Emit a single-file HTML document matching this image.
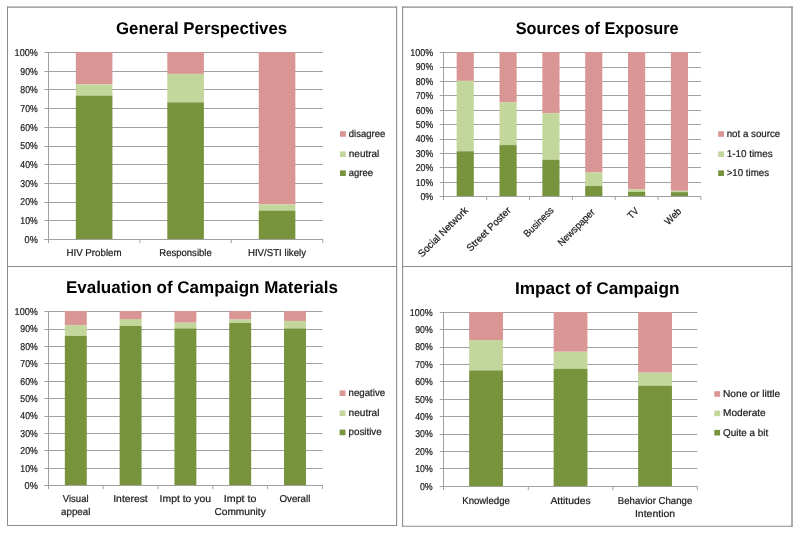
<!DOCTYPE html>
<html><head><meta charset="utf-8"><title>Survey charts</title>
<style>
html,body{margin:0;padding:0;background:#fff;}
body{width:800px;height:534px;overflow:hidden;font-family:"Liberation Sans",sans-serif;}
svg{display:block;font-family:"Liberation Sans",sans-serif;text-rendering:geometricPrecision;will-change:transform;}
</style></head><body>
<svg width="800" height="534" viewBox="0 0 800 534">
<rect width="800" height="534" fill="#fff"/>
<line x1="7" y1="7.05" x2="397.1" y2="7.05" stroke="#8c8c8c" stroke-width="1.3"/>
<line x1="402.1" y1="7.05" x2="792.7" y2="7.05" stroke="#8c8c8c" stroke-width="1.3"/>
<line x1="7" y1="266.5" x2="397.1" y2="266.5" stroke="#8c8c8c" stroke-width="1"/>
<line x1="402.1" y1="266.5" x2="792.7" y2="266.5" stroke="#8c8c8c" stroke-width="1"/>
<line x1="7" y1="525.5" x2="397.1" y2="525.5" stroke="#8c8c8c" stroke-width="1.1"/>
<line x1="402.1" y1="526.3" x2="792.7" y2="526.3" stroke="#8c8c8c" stroke-width="1.1"/>
<line x1="7.5" y1="6.4" x2="7.5" y2="526" stroke="#8c8c8c" stroke-width="1"/>
<line x1="396.6" y1="6.4" x2="396.6" y2="526" stroke="#8c8c8c" stroke-width="1.1"/>
<line x1="402.6" y1="6.4" x2="402.6" y2="526.8" stroke="#8c8c8c" stroke-width="1.1"/>
<line x1="792" y1="6.4" x2="792" y2="526.8" stroke="#8c8c8c" stroke-width="1.4"/>
<text x="201.6" y="34.2" text-anchor="middle" font-size="17.0" font-weight="bold" fill="#000" textLength="171.2" lengthAdjust="spacingAndGlyphs">General Perspectives</text>
<text x="597.2" y="34.3" text-anchor="middle" font-size="17.0" font-weight="bold" fill="#000" textLength="163" lengthAdjust="spacingAndGlyphs">Sources of Exposure</text>
<text x="201.9" y="292.8" text-anchor="middle" font-size="17.0" font-weight="bold" fill="#000" textLength="272" lengthAdjust="spacingAndGlyphs">Evaluation of Campaign Materials</text>
<text x="597.2" y="294.0" text-anchor="middle" font-size="17.0" font-weight="bold" fill="#000" textLength="164.5" lengthAdjust="spacingAndGlyphs">Impact of Campaign</text>
<line x1="44.4" y1="239.5" x2="322.8" y2="239.5" stroke="#a0a0a0" stroke-width="1"/>
<text x="37.8" y="242.80" text-anchor="end" font-size="10.0" fill="#1c1c1c" stroke="#1c1c1c" stroke-width="0.22" textLength="13.2" lengthAdjust="spacingAndGlyphs">0%</text>
<line x1="44.4" y1="220.5" x2="322.8" y2="220.5" stroke="#a0a0a0" stroke-width="1"/>
<text x="37.8" y="224.11" text-anchor="end" font-size="10.0" fill="#1c1c1c" stroke="#1c1c1c" stroke-width="0.22" textLength="17.5" lengthAdjust="spacingAndGlyphs">10%</text>
<line x1="44.4" y1="202.5" x2="322.8" y2="202.5" stroke="#a0a0a0" stroke-width="1"/>
<text x="37.8" y="205.42" text-anchor="end" font-size="10.0" fill="#1c1c1c" stroke="#1c1c1c" stroke-width="0.22" textLength="17.5" lengthAdjust="spacingAndGlyphs">20%</text>
<line x1="44.4" y1="183.5" x2="322.8" y2="183.5" stroke="#a0a0a0" stroke-width="1"/>
<text x="37.8" y="186.73" text-anchor="end" font-size="10.0" fill="#1c1c1c" stroke="#1c1c1c" stroke-width="0.22" textLength="17.5" lengthAdjust="spacingAndGlyphs">30%</text>
<line x1="44.4" y1="164.5" x2="322.8" y2="164.5" stroke="#a0a0a0" stroke-width="1"/>
<text x="37.8" y="168.04" text-anchor="end" font-size="10.0" fill="#1c1c1c" stroke="#1c1c1c" stroke-width="0.22" textLength="17.5" lengthAdjust="spacingAndGlyphs">40%</text>
<line x1="44.4" y1="146.5" x2="322.8" y2="146.5" stroke="#a0a0a0" stroke-width="1"/>
<text x="37.8" y="149.35" text-anchor="end" font-size="10.0" fill="#1c1c1c" stroke="#1c1c1c" stroke-width="0.22" textLength="17.5" lengthAdjust="spacingAndGlyphs">50%</text>
<line x1="44.4" y1="127.5" x2="322.8" y2="127.5" stroke="#a0a0a0" stroke-width="1"/>
<text x="37.8" y="130.66" text-anchor="end" font-size="10.0" fill="#1c1c1c" stroke="#1c1c1c" stroke-width="0.22" textLength="17.5" lengthAdjust="spacingAndGlyphs">60%</text>
<line x1="44.4" y1="108.5" x2="322.8" y2="108.5" stroke="#a0a0a0" stroke-width="1"/>
<text x="37.8" y="111.97" text-anchor="end" font-size="10.0" fill="#1c1c1c" stroke="#1c1c1c" stroke-width="0.22" textLength="17.5" lengthAdjust="spacingAndGlyphs">70%</text>
<line x1="44.4" y1="89.5" x2="322.8" y2="89.5" stroke="#a0a0a0" stroke-width="1"/>
<text x="37.8" y="93.28" text-anchor="end" font-size="10.0" fill="#1c1c1c" stroke="#1c1c1c" stroke-width="0.22" textLength="17.5" lengthAdjust="spacingAndGlyphs">80%</text>
<line x1="44.4" y1="71.5" x2="322.8" y2="71.5" stroke="#a0a0a0" stroke-width="1"/>
<text x="37.8" y="74.59" text-anchor="end" font-size="10.0" fill="#1c1c1c" stroke="#1c1c1c" stroke-width="0.22" textLength="17.5" lengthAdjust="spacingAndGlyphs">90%</text>
<line x1="44.4" y1="52.5" x2="322.8" y2="52.5" stroke="#a0a0a0" stroke-width="1"/>
<text x="37.8" y="55.90" text-anchor="end" font-size="10.0" fill="#1c1c1c" stroke="#1c1c1c" stroke-width="0.22" textLength="23.2" lengthAdjust="spacingAndGlyphs">100%</text>
<rect x="75.84" y="52.0" width="36.59" height="32.40" fill="#d99694"/>
<rect x="75.84" y="84.40" width="36.59" height="11.24" fill="#c3d69b"/>
<rect x="75.84" y="95.64" width="36.59" height="143.66" fill="#77933c"/>
<rect x="167.31" y="52.0" width="36.59" height="21.91" fill="#d99694"/>
<rect x="167.31" y="73.91" width="36.59" height="28.47" fill="#c3d69b"/>
<rect x="167.31" y="102.38" width="36.59" height="136.92" fill="#77933c"/>
<rect x="258.77" y="52.0" width="36.59" height="152.46" fill="#d99694"/>
<rect x="258.77" y="204.46" width="36.59" height="6.18" fill="#c3d69b"/>
<rect x="258.77" y="210.64" width="36.59" height="28.66" fill="#77933c"/>
<line x1="48.5" y1="52.0" x2="48.5" y2="243.1" stroke="#a0a0a0" stroke-width="1"/>
<line x1="44.4" y1="239.5" x2="322.8" y2="239.5" stroke="#a0a0a0" stroke-width="1"/>
<line x1="139.87" y1="239.5" x2="139.87" y2="243.1" stroke="#9a9a9a" stroke-width="0.9"/>
<line x1="231.33" y1="239.5" x2="231.33" y2="243.1" stroke="#9a9a9a" stroke-width="0.9"/>
<line x1="322.80" y1="239.5" x2="322.80" y2="243.1" stroke="#9a9a9a" stroke-width="0.9"/>
<text x="94.03" y="256.4" text-anchor="middle" font-size="10.0" fill="#1c1c1c" stroke="#1c1c1c" stroke-width="0.22" textLength="55.1" lengthAdjust="spacingAndGlyphs">HIV Problem</text>
<text x="185.50" y="256.4" text-anchor="middle" font-size="10.0" fill="#1c1c1c" stroke="#1c1c1c" stroke-width="0.22" textLength="52.5" lengthAdjust="spacingAndGlyphs">Responsible</text>
<text x="276.97" y="256.4" text-anchor="middle" font-size="10.0" fill="#1c1c1c" stroke="#1c1c1c" stroke-width="0.22" textLength="58.1" lengthAdjust="spacingAndGlyphs">HIV/STI likely</text>
<rect x="340" y="131.20" width="5.8" height="5.6" fill="#d99694"/>
<text x="348.8" y="137.00" text-anchor="start" font-size="10.0" fill="#1c1c1c" stroke="#1c1c1c" stroke-width="0.22" textLength="36.4" lengthAdjust="spacingAndGlyphs">disagree</text>
<rect x="340" y="151.40" width="5.8" height="5.6" fill="#c3d69b"/>
<text x="348.8" y="157.20" text-anchor="start" font-size="10.0" fill="#1c1c1c" stroke="#1c1c1c" stroke-width="0.22" textLength="30.5" lengthAdjust="spacingAndGlyphs">neutral</text>
<rect x="340" y="170.40" width="5.8" height="5.6" fill="#77933c"/>
<text x="348.8" y="176.20" text-anchor="start" font-size="10.0" fill="#1c1c1c" stroke="#1c1c1c" stroke-width="0.22" textLength="24.2" lengthAdjust="spacingAndGlyphs">agree</text>
<line x1="439.8" y1="196.5" x2="700.9" y2="196.5" stroke="#a0a0a0" stroke-width="1"/>
<text x="433.2" y="199.90" text-anchor="end" font-size="10.0" fill="#1c1c1c" stroke="#1c1c1c" stroke-width="0.22" textLength="12.8" lengthAdjust="spacingAndGlyphs">0%</text>
<line x1="439.8" y1="182.5" x2="700.9" y2="182.5" stroke="#a0a0a0" stroke-width="1"/>
<text x="433.2" y="185.50" text-anchor="end" font-size="10.0" fill="#1c1c1c" stroke="#1c1c1c" stroke-width="0.22" textLength="17.5" lengthAdjust="spacingAndGlyphs">10%</text>
<line x1="439.8" y1="167.5" x2="700.9" y2="167.5" stroke="#a0a0a0" stroke-width="1"/>
<text x="433.2" y="171.10" text-anchor="end" font-size="10.0" fill="#1c1c1c" stroke="#1c1c1c" stroke-width="0.22" textLength="17.5" lengthAdjust="spacingAndGlyphs">20%</text>
<line x1="439.8" y1="153.5" x2="700.9" y2="153.5" stroke="#a0a0a0" stroke-width="1"/>
<text x="433.2" y="156.70" text-anchor="end" font-size="10.0" fill="#1c1c1c" stroke="#1c1c1c" stroke-width="0.22" textLength="17.5" lengthAdjust="spacingAndGlyphs">30%</text>
<line x1="439.8" y1="139.5" x2="700.9" y2="139.5" stroke="#a0a0a0" stroke-width="1"/>
<text x="433.2" y="142.30" text-anchor="end" font-size="10.0" fill="#1c1c1c" stroke="#1c1c1c" stroke-width="0.22" textLength="17.5" lengthAdjust="spacingAndGlyphs">40%</text>
<line x1="439.8" y1="124.5" x2="700.9" y2="124.5" stroke="#a0a0a0" stroke-width="1"/>
<text x="433.2" y="127.90" text-anchor="end" font-size="10.0" fill="#1c1c1c" stroke="#1c1c1c" stroke-width="0.22" textLength="17.5" lengthAdjust="spacingAndGlyphs">50%</text>
<line x1="439.8" y1="110.5" x2="700.9" y2="110.5" stroke="#a0a0a0" stroke-width="1"/>
<text x="433.2" y="113.50" text-anchor="end" font-size="10.0" fill="#1c1c1c" stroke="#1c1c1c" stroke-width="0.22" textLength="17.5" lengthAdjust="spacingAndGlyphs">60%</text>
<line x1="439.8" y1="95.5" x2="700.9" y2="95.5" stroke="#a0a0a0" stroke-width="1"/>
<text x="433.2" y="99.10" text-anchor="end" font-size="10.0" fill="#1c1c1c" stroke="#1c1c1c" stroke-width="0.22" textLength="17.5" lengthAdjust="spacingAndGlyphs">70%</text>
<line x1="439.8" y1="81.5" x2="700.9" y2="81.5" stroke="#a0a0a0" stroke-width="1"/>
<text x="433.2" y="84.70" text-anchor="end" font-size="10.0" fill="#1c1c1c" stroke="#1c1c1c" stroke-width="0.22" textLength="17.5" lengthAdjust="spacingAndGlyphs">80%</text>
<line x1="439.8" y1="67.5" x2="700.9" y2="67.5" stroke="#a0a0a0" stroke-width="1"/>
<text x="433.2" y="70.30" text-anchor="end" font-size="10.0" fill="#1c1c1c" stroke="#1c1c1c" stroke-width="0.22" textLength="17.5" lengthAdjust="spacingAndGlyphs">90%</text>
<line x1="439.8" y1="52.5" x2="700.9" y2="52.5" stroke="#a0a0a0" stroke-width="1"/>
<text x="433.2" y="55.90" text-anchor="end" font-size="10.0" fill="#1c1c1c" stroke="#1c1c1c" stroke-width="0.22" textLength="22.9" lengthAdjust="spacingAndGlyphs">100%</text>
<rect x="456.66" y="52.0" width="17.14" height="28.86" fill="#d99694"/>
<rect x="456.66" y="80.86" width="17.14" height="70.42" fill="#c3d69b"/>
<rect x="456.66" y="151.28" width="17.14" height="45.02" fill="#77933c"/>
<rect x="499.50" y="52.0" width="17.14" height="50.36" fill="#d99694"/>
<rect x="499.50" y="102.36" width="17.14" height="42.71" fill="#c3d69b"/>
<rect x="499.50" y="145.07" width="17.14" height="51.23" fill="#77933c"/>
<rect x="542.35" y="52.0" width="17.14" height="61.18" fill="#d99694"/>
<rect x="542.35" y="113.18" width="17.14" height="46.61" fill="#c3d69b"/>
<rect x="542.35" y="159.79" width="17.14" height="36.51" fill="#77933c"/>
<rect x="585.20" y="52.0" width="17.14" height="120.49" fill="#d99694"/>
<rect x="585.20" y="172.49" width="17.14" height="13.56" fill="#c3d69b"/>
<rect x="585.20" y="186.05" width="17.14" height="10.25" fill="#77933c"/>
<rect x="628.05" y="52.0" width="17.14" height="137.23" fill="#d99694"/>
<rect x="628.05" y="189.23" width="17.14" height="2.74" fill="#c3d69b"/>
<rect x="628.05" y="191.97" width="17.14" height="4.33" fill="#77933c"/>
<rect x="670.90" y="52.0" width="17.14" height="138.82" fill="#d99694"/>
<rect x="670.90" y="190.82" width="17.14" height="1.30" fill="#c3d69b"/>
<rect x="670.90" y="192.12" width="17.14" height="4.18" fill="#77933c"/>
<line x1="443.5" y1="52.0" x2="443.5" y2="200.1" stroke="#a0a0a0" stroke-width="1"/>
<line x1="439.8" y1="196.5" x2="700.9" y2="196.5" stroke="#a0a0a0" stroke-width="1"/>
<line x1="486.65" y1="196.5" x2="486.65" y2="200.1" stroke="#9a9a9a" stroke-width="0.9"/>
<line x1="529.50" y1="196.5" x2="529.50" y2="200.1" stroke="#9a9a9a" stroke-width="0.9"/>
<line x1="572.35" y1="196.5" x2="572.35" y2="200.1" stroke="#9a9a9a" stroke-width="0.9"/>
<line x1="615.20" y1="196.5" x2="615.20" y2="200.1" stroke="#9a9a9a" stroke-width="0.9"/>
<line x1="658.05" y1="196.5" x2="658.05" y2="200.1" stroke="#9a9a9a" stroke-width="0.9"/>
<line x1="700.90" y1="196.5" x2="700.90" y2="200.1" stroke="#9a9a9a" stroke-width="0.9"/>
<text x="0" y="0" text-anchor="end" font-size="10.0" fill="#1c1c1c" stroke="#1c1c1c" stroke-width="0.22" textLength="66" lengthAdjust="spacingAndGlyphs" transform="translate(468.73,211.0) rotate(-45)">Social Network</text>
<text x="0" y="0" text-anchor="end" font-size="10.0" fill="#1c1c1c" stroke="#1c1c1c" stroke-width="0.22" textLength="58" lengthAdjust="spacingAndGlyphs" transform="translate(511.57,211.0) rotate(-45)">Street Poster</text>
<text x="0" y="0" text-anchor="end" font-size="10.0" fill="#1c1c1c" stroke="#1c1c1c" stroke-width="0.22" textLength="38" lengthAdjust="spacingAndGlyphs" transform="translate(554.42,211.0) rotate(-45)">Business</text>
<text x="0" y="0" text-anchor="end" font-size="10.0" fill="#1c1c1c" stroke="#1c1c1c" stroke-width="0.22" textLength="48" lengthAdjust="spacingAndGlyphs" transform="translate(595.57,212.7) rotate(-45)">Newspaper</text>
<text x="0" y="0" text-anchor="end" font-size="10.0" fill="#1c1c1c" stroke="#1c1c1c" stroke-width="0.22" textLength="11" lengthAdjust="spacingAndGlyphs" transform="translate(639.33,211.8) rotate(-45)">TV</text>
<text x="0" y="0" text-anchor="end" font-size="10.0" fill="#1c1c1c" stroke="#1c1c1c" stroke-width="0.22" textLength="19" lengthAdjust="spacingAndGlyphs" transform="translate(681.97,212.0) rotate(-45)">Web</text>
<rect x="718.2" y="131.20" width="5.8" height="5.6" fill="#d99694"/>
<text x="726.7" y="137.00" text-anchor="start" font-size="10.0" fill="#1c1c1c" stroke="#1c1c1c" stroke-width="0.22" textLength="53.6" lengthAdjust="spacingAndGlyphs">not a source</text>
<rect x="718.2" y="151.40" width="5.8" height="5.6" fill="#c3d69b"/>
<text x="726.7" y="157.20" text-anchor="start" font-size="10.0" fill="#1c1c1c" stroke="#1c1c1c" stroke-width="0.22" textLength="46" lengthAdjust="spacingAndGlyphs">1-10 times</text>
<rect x="718.2" y="170.40" width="5.8" height="5.6" fill="#77933c"/>
<text x="726.7" y="176.20" text-anchor="start" font-size="10.0" fill="#1c1c1c" stroke="#1c1c1c" stroke-width="0.22" textLength="42.3" lengthAdjust="spacingAndGlyphs">&gt;10 times</text>
<line x1="44.4" y1="485.5" x2="322.4" y2="485.5" stroke="#a0a0a0" stroke-width="1"/>
<text x="37.8" y="488.90" text-anchor="end" font-size="10.0" fill="#1c1c1c" stroke="#1c1c1c" stroke-width="0.22" textLength="13.2" lengthAdjust="spacingAndGlyphs">0%</text>
<line x1="44.4" y1="468.5" x2="322.4" y2="468.5" stroke="#a0a0a0" stroke-width="1"/>
<text x="37.8" y="471.51" text-anchor="end" font-size="10.0" fill="#1c1c1c" stroke="#1c1c1c" stroke-width="0.22" textLength="17.5" lengthAdjust="spacingAndGlyphs">10%</text>
<line x1="44.4" y1="450.5" x2="322.4" y2="450.5" stroke="#a0a0a0" stroke-width="1"/>
<text x="37.8" y="454.12" text-anchor="end" font-size="10.0" fill="#1c1c1c" stroke="#1c1c1c" stroke-width="0.22" textLength="17.5" lengthAdjust="spacingAndGlyphs">20%</text>
<line x1="44.4" y1="433.5" x2="322.4" y2="433.5" stroke="#a0a0a0" stroke-width="1"/>
<text x="37.8" y="436.73" text-anchor="end" font-size="10.0" fill="#1c1c1c" stroke="#1c1c1c" stroke-width="0.22" textLength="17.5" lengthAdjust="spacingAndGlyphs">30%</text>
<line x1="44.4" y1="416.5" x2="322.4" y2="416.5" stroke="#a0a0a0" stroke-width="1"/>
<text x="37.8" y="419.34" text-anchor="end" font-size="10.0" fill="#1c1c1c" stroke="#1c1c1c" stroke-width="0.22" textLength="17.5" lengthAdjust="spacingAndGlyphs">40%</text>
<line x1="44.4" y1="398.5" x2="322.4" y2="398.5" stroke="#a0a0a0" stroke-width="1"/>
<text x="37.8" y="401.95" text-anchor="end" font-size="10.0" fill="#1c1c1c" stroke="#1c1c1c" stroke-width="0.22" textLength="17.5" lengthAdjust="spacingAndGlyphs">50%</text>
<line x1="44.4" y1="381.5" x2="322.4" y2="381.5" stroke="#a0a0a0" stroke-width="1"/>
<text x="37.8" y="384.56" text-anchor="end" font-size="10.0" fill="#1c1c1c" stroke="#1c1c1c" stroke-width="0.22" textLength="17.5" lengthAdjust="spacingAndGlyphs">60%</text>
<line x1="44.4" y1="363.5" x2="322.4" y2="363.5" stroke="#a0a0a0" stroke-width="1"/>
<text x="37.8" y="367.17" text-anchor="end" font-size="10.0" fill="#1c1c1c" stroke="#1c1c1c" stroke-width="0.22" textLength="17.5" lengthAdjust="spacingAndGlyphs">70%</text>
<line x1="44.4" y1="346.5" x2="322.4" y2="346.5" stroke="#a0a0a0" stroke-width="1"/>
<text x="37.8" y="349.78" text-anchor="end" font-size="10.0" fill="#1c1c1c" stroke="#1c1c1c" stroke-width="0.22" textLength="17.5" lengthAdjust="spacingAndGlyphs">80%</text>
<line x1="44.4" y1="329.5" x2="322.4" y2="329.5" stroke="#a0a0a0" stroke-width="1"/>
<text x="37.8" y="332.39" text-anchor="end" font-size="10.0" fill="#1c1c1c" stroke="#1c1c1c" stroke-width="0.22" textLength="17.5" lengthAdjust="spacingAndGlyphs">90%</text>
<line x1="44.4" y1="311.5" x2="322.4" y2="311.5" stroke="#a0a0a0" stroke-width="1"/>
<text x="37.8" y="315.00" text-anchor="end" font-size="10.0" fill="#1c1c1c" stroke="#1c1c1c" stroke-width="0.22" textLength="23.2" lengthAdjust="spacingAndGlyphs">100%</text>
<rect x="64.84" y="311.0" width="21.92" height="14.12" fill="#d99694"/>
<rect x="64.84" y="325.12" width="21.92" height="10.81" fill="#c3d69b"/>
<rect x="64.84" y="335.92" width="21.92" height="149.38" fill="#77933c"/>
<rect x="119.64" y="311.0" width="21.92" height="8.02" fill="#d99694"/>
<rect x="119.64" y="319.02" width="21.92" height="6.97" fill="#c3d69b"/>
<rect x="119.64" y="325.99" width="21.92" height="159.31" fill="#77933c"/>
<rect x="174.44" y="311.0" width="21.92" height="11.68" fill="#d99694"/>
<rect x="174.44" y="322.68" width="21.92" height="5.75" fill="#c3d69b"/>
<rect x="174.44" y="328.43" width="21.92" height="156.87" fill="#77933c"/>
<rect x="229.24" y="311.0" width="21.92" height="8.54" fill="#d99694"/>
<rect x="229.24" y="319.54" width="21.92" height="3.49" fill="#c3d69b"/>
<rect x="229.24" y="323.03" width="21.92" height="162.27" fill="#77933c"/>
<rect x="284.04" y="311.0" width="21.92" height="9.94" fill="#d99694"/>
<rect x="284.04" y="320.94" width="21.92" height="7.49" fill="#c3d69b"/>
<rect x="284.04" y="328.43" width="21.92" height="156.87" fill="#77933c"/>
<line x1="48.5" y1="311.0" x2="48.5" y2="489.1" stroke="#a0a0a0" stroke-width="1"/>
<line x1="44.4" y1="485.5" x2="322.4" y2="485.5" stroke="#a0a0a0" stroke-width="1"/>
<line x1="103.20" y1="485.5" x2="103.20" y2="489.1" stroke="#9a9a9a" stroke-width="0.9"/>
<line x1="158.00" y1="485.5" x2="158.00" y2="489.1" stroke="#9a9a9a" stroke-width="0.9"/>
<line x1="212.80" y1="485.5" x2="212.80" y2="489.1" stroke="#9a9a9a" stroke-width="0.9"/>
<line x1="267.60" y1="485.5" x2="267.60" y2="489.1" stroke="#9a9a9a" stroke-width="0.9"/>
<line x1="322.40" y1="485.5" x2="322.40" y2="489.1" stroke="#9a9a9a" stroke-width="0.9"/>
<text x="75.70" y="502.10" text-anchor="middle" font-size="10.0" fill="#1c1c1c" stroke="#1c1c1c" stroke-width="0.22" textLength="25.8" lengthAdjust="spacingAndGlyphs">Visual</text>
<text x="75.70" y="515.20" text-anchor="middle" font-size="10.0" fill="#1c1c1c" stroke="#1c1c1c" stroke-width="0.22" textLength="29.3" lengthAdjust="spacingAndGlyphs">appeal</text>
<text x="130.50" y="502.10" text-anchor="middle" font-size="10.0" fill="#1c1c1c" stroke="#1c1c1c" stroke-width="0.22" textLength="34.5" lengthAdjust="spacingAndGlyphs">Interest</text>
<text x="185.30" y="502.10" text-anchor="middle" font-size="10.0" fill="#1c1c1c" stroke="#1c1c1c" stroke-width="0.22" textLength="51.4" lengthAdjust="spacingAndGlyphs">Impt to you</text>
<text x="240.10" y="502.10" text-anchor="middle" font-size="10.0" fill="#1c1c1c" stroke="#1c1c1c" stroke-width="0.22" textLength="32.6" lengthAdjust="spacingAndGlyphs">Impt to</text>
<text x="240.10" y="515.20" text-anchor="middle" font-size="10.0" fill="#1c1c1c" stroke="#1c1c1c" stroke-width="0.22" textLength="51.3" lengthAdjust="spacingAndGlyphs">Community</text>
<text x="294.90" y="502.10" text-anchor="middle" font-size="10.0" fill="#1c1c1c" stroke="#1c1c1c" stroke-width="0.22" textLength="30.8" lengthAdjust="spacingAndGlyphs">Overall</text>
<rect x="339.6" y="390.40" width="5.8" height="5.6" fill="#d99694"/>
<text x="348.5" y="396.20" text-anchor="start" font-size="10.0" fill="#1c1c1c" stroke="#1c1c1c" stroke-width="0.22" textLength="36.7" lengthAdjust="spacingAndGlyphs">negative</text>
<rect x="339.6" y="410.40" width="5.8" height="5.6" fill="#c3d69b"/>
<text x="348.5" y="416.20" text-anchor="start" font-size="10.0" fill="#1c1c1c" stroke="#1c1c1c" stroke-width="0.22" textLength="31" lengthAdjust="spacingAndGlyphs">neutral</text>
<rect x="339.6" y="429.60" width="5.8" height="5.6" fill="#77933c"/>
<text x="348.5" y="435.40" text-anchor="start" font-size="10.0" fill="#1c1c1c" stroke="#1c1c1c" stroke-width="0.22" textLength="33.2" lengthAdjust="spacingAndGlyphs">positive</text>
<line x1="439.8" y1="486.5" x2="697.3" y2="486.5" stroke="#a0a0a0" stroke-width="1"/>
<text x="432.7" y="489.60" text-anchor="end" font-size="10.0" fill="#1c1c1c" stroke="#1c1c1c" stroke-width="0.22" textLength="12.8" lengthAdjust="spacingAndGlyphs">0%</text>
<line x1="439.8" y1="468.5" x2="697.3" y2="468.5" stroke="#a0a0a0" stroke-width="1"/>
<text x="432.7" y="472.20" text-anchor="end" font-size="10.0" fill="#1c1c1c" stroke="#1c1c1c" stroke-width="0.22" textLength="17.5" lengthAdjust="spacingAndGlyphs">10%</text>
<line x1="439.8" y1="451.5" x2="697.3" y2="451.5" stroke="#a0a0a0" stroke-width="1"/>
<text x="432.7" y="454.80" text-anchor="end" font-size="10.0" fill="#1c1c1c" stroke="#1c1c1c" stroke-width="0.22" textLength="17.5" lengthAdjust="spacingAndGlyphs">20%</text>
<line x1="439.8" y1="434.5" x2="697.3" y2="434.5" stroke="#a0a0a0" stroke-width="1"/>
<text x="432.7" y="437.40" text-anchor="end" font-size="10.0" fill="#1c1c1c" stroke="#1c1c1c" stroke-width="0.22" textLength="17.5" lengthAdjust="spacingAndGlyphs">30%</text>
<line x1="439.8" y1="416.5" x2="697.3" y2="416.5" stroke="#a0a0a0" stroke-width="1"/>
<text x="432.7" y="420.00" text-anchor="end" font-size="10.0" fill="#1c1c1c" stroke="#1c1c1c" stroke-width="0.22" textLength="17.5" lengthAdjust="spacingAndGlyphs">40%</text>
<line x1="439.8" y1="399.5" x2="697.3" y2="399.5" stroke="#a0a0a0" stroke-width="1"/>
<text x="432.7" y="402.60" text-anchor="end" font-size="10.0" fill="#1c1c1c" stroke="#1c1c1c" stroke-width="0.22" textLength="17.5" lengthAdjust="spacingAndGlyphs">50%</text>
<line x1="439.8" y1="381.5" x2="697.3" y2="381.5" stroke="#a0a0a0" stroke-width="1"/>
<text x="432.7" y="385.20" text-anchor="end" font-size="10.0" fill="#1c1c1c" stroke="#1c1c1c" stroke-width="0.22" textLength="17.5" lengthAdjust="spacingAndGlyphs">60%</text>
<line x1="439.8" y1="364.5" x2="697.3" y2="364.5" stroke="#a0a0a0" stroke-width="1"/>
<text x="432.7" y="367.80" text-anchor="end" font-size="10.0" fill="#1c1c1c" stroke="#1c1c1c" stroke-width="0.22" textLength="17.5" lengthAdjust="spacingAndGlyphs">70%</text>
<line x1="439.8" y1="347.5" x2="697.3" y2="347.5" stroke="#a0a0a0" stroke-width="1"/>
<text x="432.7" y="350.40" text-anchor="end" font-size="10.0" fill="#1c1c1c" stroke="#1c1c1c" stroke-width="0.22" textLength="17.5" lengthAdjust="spacingAndGlyphs">80%</text>
<line x1="439.8" y1="329.5" x2="697.3" y2="329.5" stroke="#a0a0a0" stroke-width="1"/>
<text x="432.7" y="333.00" text-anchor="end" font-size="10.0" fill="#1c1c1c" stroke="#1c1c1c" stroke-width="0.22" textLength="17.5" lengthAdjust="spacingAndGlyphs">90%</text>
<line x1="439.8" y1="312.5" x2="697.3" y2="312.5" stroke="#a0a0a0" stroke-width="1"/>
<text x="432.7" y="315.60" text-anchor="end" font-size="10.0" fill="#1c1c1c" stroke="#1c1c1c" stroke-width="0.22" textLength="22.9" lengthAdjust="spacingAndGlyphs">100%</text>
<rect x="469.15" y="312.0" width="33.80" height="28.06" fill="#d99694"/>
<rect x="469.15" y="340.06" width="33.80" height="30.33" fill="#c3d69b"/>
<rect x="469.15" y="370.39" width="33.80" height="115.91" fill="#77933c"/>
<rect x="553.65" y="312.0" width="33.80" height="39.74" fill="#d99694"/>
<rect x="553.65" y="351.74" width="33.80" height="17.08" fill="#c3d69b"/>
<rect x="553.65" y="368.82" width="33.80" height="117.48" fill="#77933c"/>
<rect x="638.15" y="312.0" width="33.80" height="60.66" fill="#d99694"/>
<rect x="638.15" y="372.66" width="33.80" height="13.07" fill="#c3d69b"/>
<rect x="638.15" y="385.73" width="33.80" height="100.57" fill="#77933c"/>
<line x1="443.5" y1="312.0" x2="443.5" y2="490.1" stroke="#a0a0a0" stroke-width="1"/>
<line x1="439.8" y1="486.5" x2="697.3" y2="486.5" stroke="#a0a0a0" stroke-width="1"/>
<line x1="528.30" y1="486.5" x2="528.30" y2="490.1" stroke="#9a9a9a" stroke-width="0.9"/>
<line x1="612.80" y1="486.5" x2="612.80" y2="490.1" stroke="#9a9a9a" stroke-width="0.9"/>
<line x1="697.30" y1="486.5" x2="697.30" y2="490.1" stroke="#9a9a9a" stroke-width="0.9"/>
<text x="486.05" y="503.80" text-anchor="middle" font-size="10.0" fill="#1c1c1c" stroke="#1c1c1c" stroke-width="0.22" textLength="47.6" lengthAdjust="spacingAndGlyphs">Knowledge</text>
<text x="570.55" y="503.80" text-anchor="middle" font-size="10.0" fill="#1c1c1c" stroke="#1c1c1c" stroke-width="0.22" textLength="40.2" lengthAdjust="spacingAndGlyphs">Attitudes</text>
<text x="655.05" y="503.80" text-anchor="middle" font-size="10.0" fill="#1c1c1c" stroke="#1c1c1c" stroke-width="0.22" textLength="74.5" lengthAdjust="spacingAndGlyphs">Behavior Change</text>
<text x="655.05" y="516.90" text-anchor="middle" font-size="10.0" fill="#1c1c1c" stroke="#1c1c1c" stroke-width="0.22" textLength="40.2" lengthAdjust="spacingAndGlyphs">Intention</text>
<rect x="714.3" y="391.20" width="5.8" height="5.6" fill="#d99694"/>
<text x="723" y="397.00" text-anchor="start" font-size="10.0" fill="#1c1c1c" stroke="#1c1c1c" stroke-width="0.22" textLength="57.3" lengthAdjust="spacingAndGlyphs">None or little</text>
<rect x="714.3" y="410.60" width="5.8" height="5.6" fill="#c3d69b"/>
<text x="723" y="416.40" text-anchor="start" font-size="10.0" fill="#1c1c1c" stroke="#1c1c1c" stroke-width="0.22" textLength="42.7" lengthAdjust="spacingAndGlyphs">Moderate</text>
<rect x="714.3" y="429.90" width="5.8" height="5.6" fill="#77933c"/>
<text x="723" y="435.70" text-anchor="start" font-size="10.0" fill="#1c1c1c" stroke="#1c1c1c" stroke-width="0.22" textLength="45.2" lengthAdjust="spacingAndGlyphs">Quite a bit</text>
</svg>
</body></html>
